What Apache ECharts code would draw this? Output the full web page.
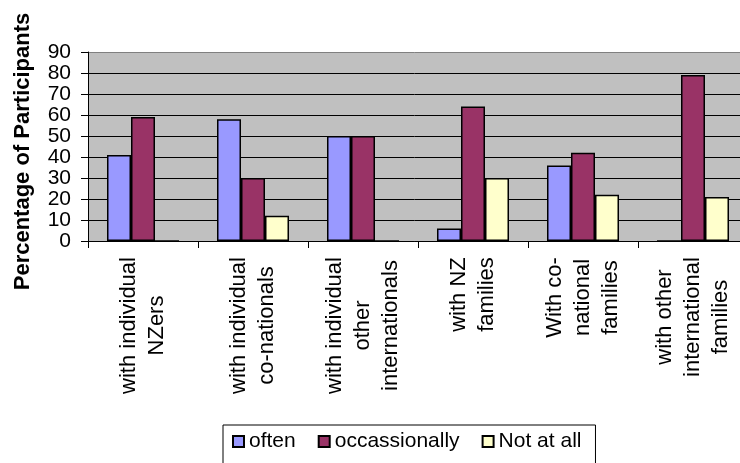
<!DOCTYPE html>
<html>
<head>
<meta charset="utf-8">
<script src="https://cdn.jsdelivr.net/npm/echarts@6/dist/echarts.min.js"></script>
<style>
html,body{margin:0;padding:0;background:#fff;}
#chart{width:740px;height:463px;}
</style>
</head>
<body>
<div id="chart"></div>
<script>
const categories = [
  'with individual\nNZers',
  'with individual\nco-nationals',
  'with individual\nother\ninternationals',
  'with NZ\nfamilies',
  'With co-\nnational\nfamilies',
  'with other\ninternational\nfamilies'
];
const seriesNames = ['often', 'occassionally', 'Not at all'];
const often = [41, 58, 50, 6, 36, 0];
const occasionally = [59, 30, 50, 64, 42, 79];
const notAtAll = [0, 12, 0, 30, 22, 21];
const yTicks = [0, 10, 20, 30, 40, 50, 60, 70, 80, 90];
const yTitle = 'Percentage of Participants';

const FONT = '"Liberation Sans", Arial, sans-serif';
const XFS = 22;

// measure each label's widest line so lines can be centred within their block
const ctx = document.createElement('canvas').getContext('2d');
ctx.font = XFS + 'px ' + FONT;
const rich = {};
categories.forEach((c, i) => {
  const w = Math.max(...c.split('\n').map(l => ctx.measureText(l).width));
  rich['c' + i] = { width: Math.ceil(w), align: 'center', fontSize: XFS, lineHeight: 28, fontFamily: FONT, color: '#000' };
});

const chart = echarts.init(document.getElementById('chart'), null, { renderer: 'canvas' });
const gridColors = yTicks.map((t, i) => i === yTicks.length - 1 ? '#808080' : '#000000');

const option = {
  animation: false,
  backgroundColor: '#ffffff',
  textStyle: { fontFamily: FONT },
  grid: {
    left: 88, top: 52, right: -8, bottom: 222,
    show: true, backgroundColor: '#C0C0C0', borderWidth: 0,
    containLabel: false, outerBoundsMode: 'none'
  },
  legend: {
    data: seriesNames,
    left: 223, top: 425,
    orient: 'horizontal',
    itemWidth: 11, itemHeight: 11, itemGap: 22,
    padding: [6, 14, 12, 9],
    borderColor: '#000', borderWidth: 1, backgroundColor: '#fff',
    icon: 'rect',
    textStyle: { fontSize: 21, color: '#000', fontFamily: FONT }
  },
  xAxis: {
    type: 'category',
    data: categories,
    axisLine: { show: true, lineStyle: { color: '#000', width: 1 } },
    axisTick: { show: true, length: 7, alignWithLabel: false, lineStyle: { color: '#000' } },
    axisLabel: {
      interval: 0, rotate: 90, margin: 16,
      formatter: (v, i) => v.split('\n').map(l => '{c' + i + '|' + l + '}').join('\n'),
      rich: rich
    },
    splitLine: { show: false }
  },
  yAxis: {
    type: 'value', min: 0, max: 90, interval: 10,
    name: yTitle, nameLocation: 'middle', nameRotate: 90, nameGap: 54,
    nameTextStyle: { fontSize: 22, fontWeight: 'bold', color: '#000', fontFamily: FONT, padding: [0, 10, 0, 0] },
    axisLine: { show: true, lineStyle: { color: '#000', width: 1 } },
    axisTick: { show: true, length: 7, lineStyle: { color: '#000' } },
    axisLabel: { fontSize: 21, color: '#000', margin: 17, fontFamily: FONT },
    splitLine: { show: true, lineStyle: { color: gridColors, width: 1 } }
  },
  series: [
    { name: seriesNames[0], type: 'bar', data: often, barWidth: 24, barGap: '0%',
      itemStyle: { color: '#9999FF', borderColor: '#000', borderWidth: 1.5 } },
    { name: seriesNames[1], type: 'bar', data: occasionally, barWidth: 24, barGap: '0%',
      itemStyle: { color: '#993366', borderColor: '#000', borderWidth: 1.5 } },
    { name: seriesNames[2], type: 'bar', data: notAtAll, barWidth: 24, barGap: '0%',
      itemStyle: { color: '#FFFFCC', borderColor: '#000', borderWidth: 1.5 } }
  ]
};
chart.setOption(option);
</script>
</body>
</html>
